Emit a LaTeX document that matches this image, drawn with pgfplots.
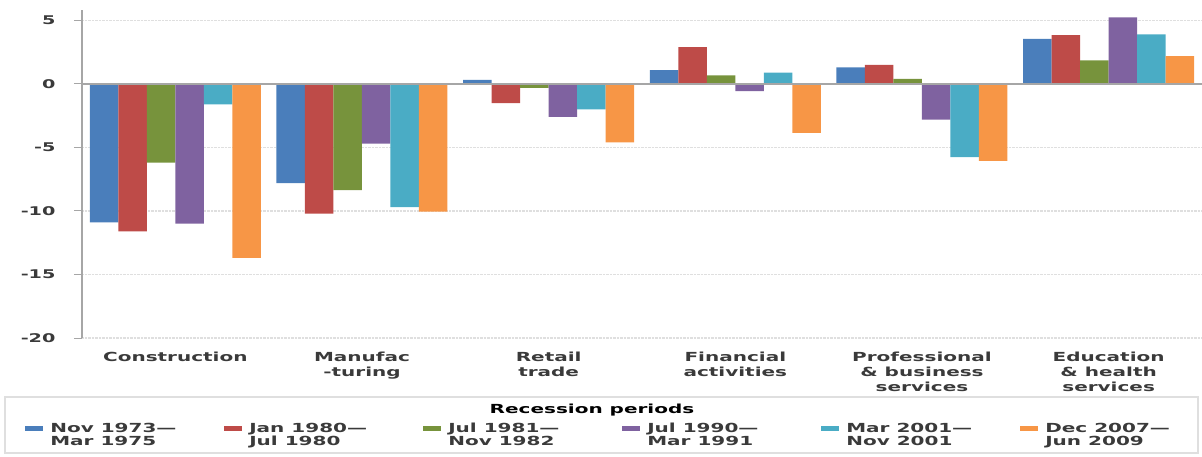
\documentclass[border=0pt]{standalone}
\usepackage{pgfplots}
\pgfplotsset{compat=1.18}
\usepackage{fontspec}
\setmainfont{DejaVu Sans}
\newfontfamily\wf[FakeStretch=1.6]{DejaVu Sans}
\definecolor{cA}{HTML}{4A7EBB}
\definecolor{cB}{HTML}{BE4B48}
\definecolor{cC}{HTML}{77933C}
\definecolor{cD}{HTML}{7F62A0}
\definecolor{cE}{HTML}{4AACC5}
\definecolor{cF}{HTML}{F79646}
\definecolor{txt}{HTML}{3A3A3A}
\definecolor{axgray}{HTML}{A6A6A6}
\pgfplotsset{
  sq/.style={legend image code/.code={\fill[##1] (0pt,-2.5pt) rectangle (18pt,2.5pt);}},
}
\begin{document}
\begin{tikzpicture}
\path[use as bounding box] (0,0) rectangle (1202pt,-456pt);
\begin{axis}[
  at={(82pt,-338pt)}, anchor=south west,
  scale only axis, width=1120pt, height=327.7pt,
  xmin=-0.5, xmax=5.5, ymin=-20, ymax=5.8,
  ybar=0pt, bar width=28.5pt,
  axis lines*=left,
  x axis line style={draw=none},
  y axis line style={axgray, line width=1.5pt},
  xtick={0,...,5},
  xticklabels={Construction, Manufac\\-turing, Retail\\trade, Financial\\activities, Professional\\\& business\\services, Education\\\& health\\services},
  xticklabel style={align=center, font=\wf\bfseries\fontsize{12.5}{15}\selectfont, text=txt, yshift=-2pt},
  x tick style={draw=none},
  ytick={-20,-15,-10,-5,0,5},
  yticklabels={-20,-15,-10,-5,0,5},
  yticklabel style={font=\wf\bfseries\fontsize{12}{14}\selectfont, text=txt, xshift=-15pt},
  y tick style={axgray, line width=1pt},
  tick align=outside, major tick length=8pt,
  ymajorgrids,
  major grid style={densely dotted, gray!25, line width=1.2pt},
  clip=false,
  legend columns=6,
  legend style={at={(-0.0535,-0.254)}, anchor=north west, draw=none, fill=none,
    font=\wf\bfseries\fontsize{12.5}{13}\selectfont, text=txt,
    nodes={inner sep=0pt},
    /tikz/every odd column/.append style={column sep=7pt},
    /tikz/every even column/.append style={column sep=0pt}},
]
\addplot[fill=cA, draw=none, sq] coordinates {(0,-10.9) (1,-7.8) (2,0.33) (3,1.1) (4,1.3) (5,3.55)};
\addlegendentry{\parbox[t]{174pt}{Nov 1973—\\Mar 1975}}
\addplot[fill=cB, draw=none, sq] coordinates {(0,-11.6) (1,-10.2) (2,-1.5) (3,2.9) (4,1.5) (5,3.85)};
\addlegendentry{\parbox[t]{174pt}{Jan 1980—\\Jul 1980}}
\addplot[fill=cC, draw=none, sq] coordinates {(0,-6.2) (1,-8.35) (2,-0.3) (3,0.67) (4,0.4) (5,1.85)};
\addlegendentry{\parbox[t]{174pt}{Jul 1981—\\Nov 1982}}
\addplot[fill=cD, draw=none, sq] coordinates {(0,-11.0) (1,-4.7) (2,-2.6) (3,-0.56) (4,-2.8) (5,5.25)};
\addlegendentry{\parbox[t]{174pt}{Jul 1990—\\Mar 1991}}
\addplot[fill=cE, draw=none, sq] coordinates {(0,-1.6) (1,-9.7) (2,-2.0) (3,0.9) (4,-5.75) (5,3.9)};
\addlegendentry{\parbox[t]{174pt}{Mar 2001—\\Nov 2001}}
\addplot[fill=cF, draw=none, sq] coordinates {(0,-13.7) (1,-10.05) (2,-4.6) (3,-3.85) (4,-6.05) (5,2.2)};
\addlegendentry{\parbox[t]{174pt}{Dec 2007—\\Jun 2009}}
\draw[axgray, line width=1.5pt] (axis cs:-0.5,0) -- (axis cs:5.5,0);
\pgfplotsinvokeforeach{0.5,1.5,2.5,3.5,4.5}{
  \draw[axgray, line width=1.2pt] (axis cs:#1,0) ++(0,-3.5pt) -- ++(0,7pt);
}
\end{axis}
\draw[gray!25, line width=1.5pt] (5pt,-397pt) rectangle (1198pt,-453pt);
\node[font=\wf\bfseries\fontsize{12.5}{14}\selectfont, text=black] at (592pt,-410pt) {Recession periods};
\end{tikzpicture}
\end{document}
